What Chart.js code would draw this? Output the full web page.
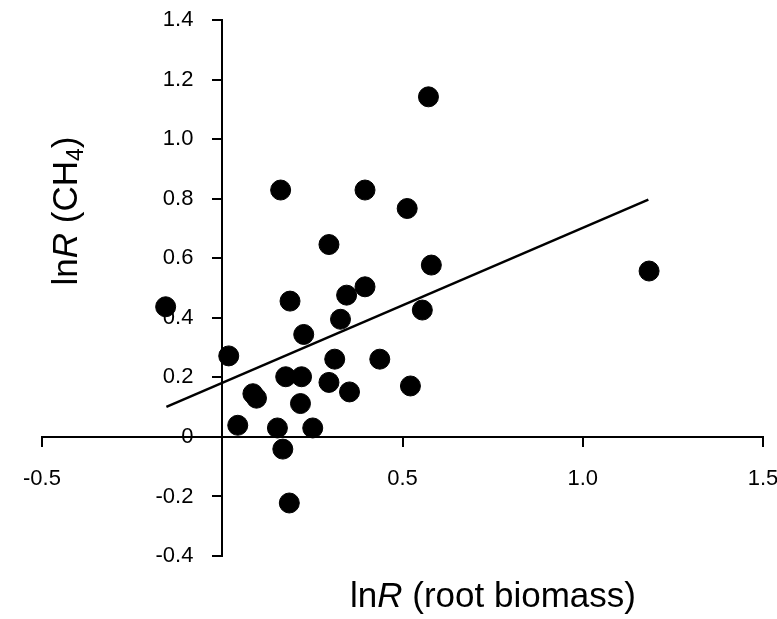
<!DOCTYPE html>
<html>
<head>
<meta charset="utf-8">
<script src="https://cdn.jsdelivr.net/npm/chart.js@4.4.0/dist/chart.umd.min.js"></script>
<style>
  body { margin: 0; background: #fff; }
  #wrap { width: 777px; height: 619px; }
</style>
</head>
<body>
<div id="wrap"><canvas id="myChart"></canvas></div>
<script>
// lnR (root biomass) vs lnR (CH4), one point per study
const rootBiomass = [-0.157, 0.018, 0.043, 0.085, 0.095, 0.153, 0.162, 0.168, 0.176, 0.186,
                     0.188, 0.217, 0.220, 0.226, 0.251, 0.296, 0.296, 0.312, 0.328, 0.345,
                     0.353, 0.396, 0.396, 0.437, 0.513, 0.522, 0.555, 0.572, 0.580, 1.184];
const methane = [0.437, 0.272, 0.039, 0.145, 0.130, 0.030, 0.829, -0.041, 0.202, -0.222,
                 0.456, 0.112, 0.202, 0.344, 0.030, 0.646, 0.183, 0.261, 0.395, 0.476,
                 0.151, 0.829, 0.504, 0.261, 0.767, 0.171, 0.426, 1.142, 0.577, 0.557];

// regression line end points
const trendX = [-0.155, 1.182];
const trendY = [0.101, 0.797];

const xTicks = [-0.5, 0, 0.5, 1.0, 1.5];
const xTickLabels = ['-0.5', '', '0.5', '1.0', '1.5'];
const yTicks = [-0.4, -0.2, 0, 0.2, 0.4, 0.6, 0.8, 1.0, 1.2, 1.4];
const yTickLabels = ['-0.4', '-0.2', '0', '0.2', '0.4', '0.6', '0.8', '1.0', '1.2', '1.4'];

const points = rootBiomass.map((x, i) => ({ x: x, y: methane[i] }));
const trend = trendX.map((x, i) => ({ x: x, y: trendY[i] }));

const FONT = "'Liberation Sans', Arial, sans-serif";

function setTicks(values) {
  return function (scale) {
    scale.ticks = values.map(v => ({ value: v }));
  };
}
function noSpace(scale) {
  if (scale.isHorizontal()) scale.height = 0; else scale.width = 0;
  scale.paddingLeft = 0; scale.paddingRight = 0;
  scale.paddingTop = 0; scale.paddingBottom = 0;
}

// axis titles with italic R and subscript 4
const titles = {
  id: 'titles',
  afterDraw(chart) {
    const ctx = chart.ctx;
    const normal = '35px ' + FONT;
    const italic = 'italic 35px ' + FONT;
    const small = '23px ' + FONT;

    function drawParts(parts, cx, baseY) {
      let total = 0;
      parts.forEach(p => { ctx.font = p[1]; total += ctx.measureText(p[0]).width; });
      let x = cx - total / 2;
      parts.forEach(p => {
        ctx.font = p[1];
        ctx.fillText(p[0], x, baseY + (p[2] || 0));
        x += ctx.measureText(p[0]).width;
      });
    }

    ctx.save();
    ctx.fillStyle = '#000';
    ctx.textBaseline = 'alphabetic';
    ctx.textAlign = 'left';
    drawParts([['ln', normal], ['R', italic], [' (root biomass)', normal]], 493, 607);

    ctx.translate(77, 211);
    ctx.rotate(-Math.PI / 2);
    drawParts([['ln', normal], ['R', italic], [' (CH', normal], ['4', small, 6], [')', normal]], 0, 0);
    ctx.restore();
  }
};

const ctx = document.getElementById('myChart').getContext('2d');
const myChart = new Chart(ctx, {
  type: 'scatter',
  data: {
    datasets: [
      {
        type: 'line',
        label: 'trend',
        data: trend,
        borderColor: 'black',
        borderWidth: 2.5,
        pointRadius: 0,
        fill: false
      },
      {
        label: 'studies',
        data: points,
        backgroundColor: 'black',
        borderColor: 'black',
        borderWidth: 1,
        pointRadius: 10
      }
    ]
  },
  options: {
    responsive: true,
    maintainAspectRatio: false,
    animation: false,
    layout: {
      autoPadding: false,
      padding: { left: 42, right: 14, top: 20, bottom: 63 }
    },
    plugins: {
      legend: { display: false },
      tooltip: { enabled: false }
    },
    scales: {
      x: {
        type: 'linear',
        min: -0.5,
        max: 1.5,
        position: { y: 0 },
        afterBuildTicks: setTicks(xTicks),
        afterFit: noSpace,
        grid: { drawOnChartArea: false, drawTicks: true, tickLength: 9, lineWidth: 2, color: 'black' },
        border: { display: true, color: 'black', width: 2 },
        ticks: {
          padding: 20,
          maxRotation: 0,
          color: 'black',
          font: { family: FONT, size: 22 },
          callback: (v, i) => xTickLabels[i]
        }
      },
      y: {
        type: 'linear',
        min: -0.4,
        max: 1.4,
        position: { x: 0 },
        afterBuildTicks: setTicks(yTicks),
        afterFit: noSpace,
        grid: { drawOnChartArea: false, drawTicks: true, tickLength: 9, lineWidth: 2, color: 'black' },
        border: { display: true, color: 'black', width: 2 },
        ticks: { display: false }
      },
      // second y scale only carries the labels, right-aligned left of the axis
      y2: {
        type: 'linear',
        axis: 'y',
        min: -0.4,
        max: 1.4,
        position: { x: -0.08 },
        afterBuildTicks: setTicks(yTicks),
        afterFit: noSpace,
        grid: { display: false },
        border: { display: false },
        ticks: {
          padding: 0,
          color: 'black',
          font: { family: FONT, size: 22 },
          callback: (v, i) => yTickLabels[i]
        }
      }
    }
  },
  plugins: [titles]
});
</script>
</body>
</html>
